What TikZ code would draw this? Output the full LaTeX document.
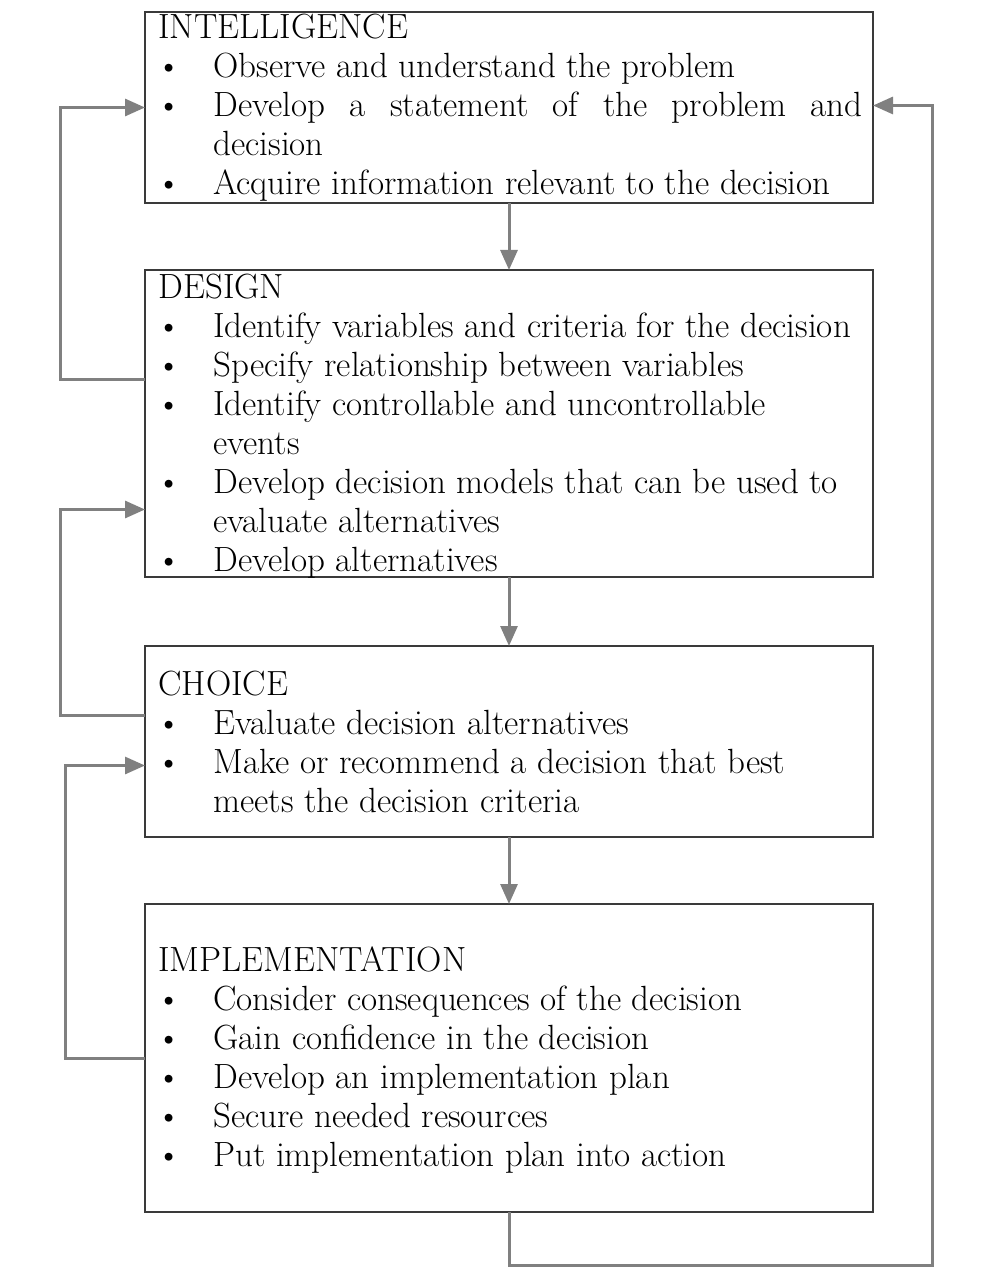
\documentclass[tikz,border=0pt]{standalone}
\usepackage{enumitem}
\usetikzlibrary{arrows.meta}
\definecolor{boxgray}{HTML}{3A3A3A}
\definecolor{arrgray}{HTML}{808080}
\setlist[itemize]{leftmargin=27.5pt,labelsep=16pt,topsep=0pt,partopsep=0pt,itemsep=0pt,parsep=0pt}
\tikzset{
  stagebox/.style={draw=boxgray,line width=1.4pt,minimum width=364pt,inner sep=0pt,outer sep=0pt},
  stagetxt/.style={anchor=north west,inner sep=0pt,text width=352pt,align=justify,
    font=\fontsize{17.5}{19.5}\selectfont,text=black},
  flowarr/.style={draw=arrgray,line width=1.5pt,-{Triangle[length=10pt,width=8.5pt]}}
}
\begin{document}
\begin{tikzpicture}[x=0.5pt,y=-0.5pt]
\useasboundingbox (0,0) rectangle (981,1267);

\node[stagebox,minimum height=95.5pt] (intel) at (509,107.5) {};
\node[stagebox,minimum height=153.5pt] (design) at (509,423.5) {};
\node[stagebox,minimum height=95.5pt] (choice) at (509,741.5) {};
\node[stagebox,minimum height=154pt] (impl) at (509,1058) {};

\node[stagetxt] (intelTxt) at (158,14) {INTELLIGENCE
\begin{itemize}
\item Observe and understand the problem
\item Develop a statement of the problem and\linebreak decision
\item Acquire information relevant to the decision
\end{itemize}};

\node[stagetxt] (designTxt) at (158,274) {DESIGN
\begin{itemize}
\item Identify variables and criteria for the decision
\item Specify relationship between variables
\item Identify controllable and uncontrollable\newline events
\item Develop decision models that can be used to\newline evaluate alternatives
\item Develop alternatives
\end{itemize}};

\node[stagetxt] (choiceTxt) at (158,671) {CHOICE
\begin{itemize}
\item Evaluate decision alternatives
\item Make or recommend a decision that best\newline meets the decision criteria
\end{itemize}};

\node[stagetxt] (implTxt) at (158,946) {IMPLEMENTATION
\begin{itemize}
\item Consider consequences of the decision
\item Gain confidence in the decision
\item Develop an implementation plan
\item Secure needed resources
\item Put implementation plan into action
\end{itemize}};

\foreach \a/\b in {intel/design, design/choice, choice/impl}
{
    \draw[flowarr] (\a) -- (\b);
};

% feedback loops on the left
\draw[flowarr] ([yshift=22pt]design.west) -- ++(-42.5pt,0) |- (intel.west);
\draw[flowarr] ([yshift=13pt]choice.west) -- ++(-42.5pt,0) |- ([yshift=-43pt]design.west);
\draw[flowarr] (impl.west) -- ++(-40pt,0) |- ([yshift=-12pt]choice.west);

% back to the start
\coordinate (cRightPt) at ([xshift=29.5pt,yshift=1pt]intel.east);
\draw[flowarr] (impl.south) -- ++(0,-26.5pt) -| (cRightPt) -- ([yshift=1pt]intel.east);
\end{tikzpicture}
\end{document}
